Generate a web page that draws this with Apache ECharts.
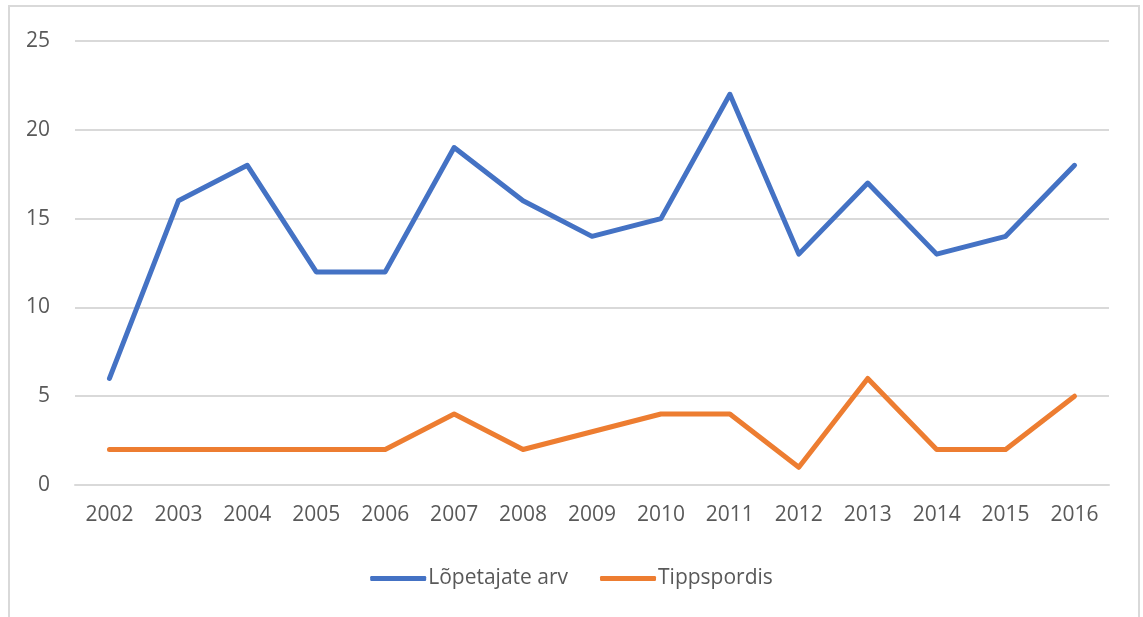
<!DOCTYPE html>
<html>
<head>
<meta charset="utf-8">
<script src="https://cdn.jsdelivr.net/npm/echarts@6/dist/echarts.min.js"></script>
<style>
html, body { margin: 0; padding: 0; background: #fff; }
#frame { position: absolute; left: 8px; top: 5px; width: 1132px; height: 620px; border: 2px solid #d9d9d9; box-sizing: border-box; }
#box { position: absolute; left: 0; top: 0; width: 1143px; height: 617px; }
</style>
</head>
<body>
<div id="frame"></div>
<div id="box"></div>
<script>
var years = ['2002', '2003', '2004', '2005', '2006', '2007', '2008', '2009', '2010', '2011', '2012', '2013', '2014', '2015', '2016'];
var lopetajad = [6, 16, 18, 12, 12, 19, 16, 14, 15, 22, 13, 17, 13, 14, 18];
var tippsport = [2, 2, 2, 2, 2, 4, 2, 3, 4, 4, 1, 6, 2, 2, 5];

var myChart = echarts.init(document.getElementById('box'));

var font = 'Open Sans';
var option = {
    animation: false,
    textStyle: { fontFamily: font },
    legend: {
        data: ['Lõpetajate arv', 'Tippspordis'],
        top: 563,
        left: 'center',
        itemWidth: 56,
        itemHeight: 5,
        itemGap: 32,
        icon: 'roundRect',
        textStyle: { color: '#595959', fontSize: 21, fontFamily: font, padding: [0, 0, 0, -3] }
    },
    grid: { left: 75, right: 34, top: 41, bottom: 132 },
    xAxis: {
        type: 'category',
        data: years,
        boundaryGap: true,
        axisLine: { show: true, lineStyle: { color: '#d9d9d9', width: 2 } },
        axisTick: { show: false },
        axisLabel: { color: '#595959', fontSize: 21, margin: 20 }
    },
    yAxis: {
        type: 'value',
        min: 0,
        max: 25,
        interval: 5,
        axisLine: { show: false },
        axisTick: { show: false },
        splitLine: { lineStyle: { color: '#d9d9d9', width: 2 } },
        axisLabel: { color: '#595959', fontSize: 21, margin: 25 }
    },
    series: [{
        name: 'Lõpetajate arv',
        type: 'line',
        data: lopetajad,
        symbol: 'none',
        itemStyle: { color: '#4472C4' },
        lineStyle: { color: '#4472C4', width: 5, cap: 'round', join: 'round' }
    }, {
        name: 'Tippspordis',
        type: 'line',
        data: tippsport,
        symbol: 'none',
        itemStyle: { color: '#ED7D31' },
        lineStyle: { color: '#ED7D31', width: 5, cap: 'round', join: 'round' }
    }]
};

myChart.setOption(option);
</script>
</body>
</html>
